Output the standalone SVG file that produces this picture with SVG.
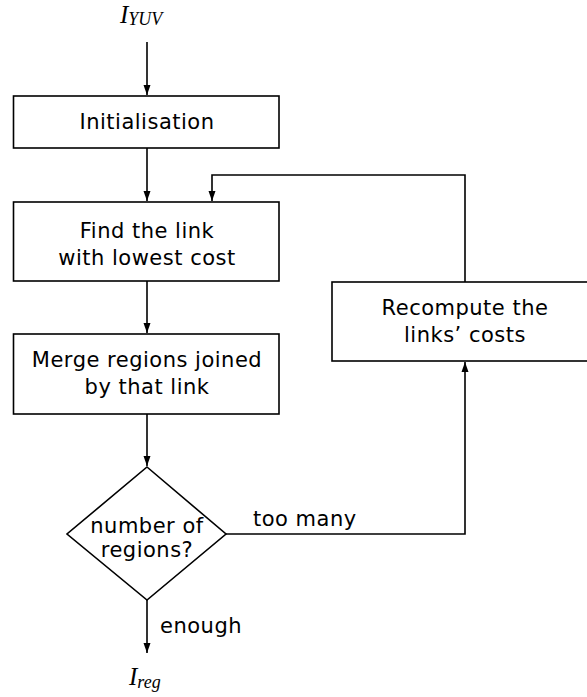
<svg xmlns="http://www.w3.org/2000/svg" width="587" height="697" viewBox="0 0 587 697">
<defs>
<marker id="ah" viewBox="0 0 10 10" refX="10" refY="5" markerWidth="10" markerHeight="10" markerUnits="userSpaceOnUse" orient="auto">
<path d="M0,1.5 L10,5 L0,8.5 Z" fill="#000"/>
</marker>
<style>
.box{fill:#fff;stroke:#000;stroke-width:1.6}
.t{font-family:"DejaVu Sans",sans-serif;font-size:21px;letter-spacing:0.5px;fill:#000;text-anchor:middle}
.lbl{font-family:"DejaVu Sans",sans-serif;font-size:21px;letter-spacing:0.5px;fill:#000}
.m{font-family:"Liberation Serif",serif;font-style:italic;fill:#000}
.c{fill:none;stroke:#000;stroke-width:1.6}
</style>
</defs>
<g id="connectors">
<path class="c" d="M147,42 V95" marker-end="url(#ah)"/>
<path class="c" d="M147,148 V201" marker-end="url(#ah)"/>
<path class="c" d="M465,282 V175 H212 V201" marker-end="url(#ah)"/>
<path class="c" d="M147,281 V333" marker-end="url(#ah)"/>
<path class="c" d="M147,414 V466" marker-end="url(#ah)"/>
<path class="c" d="M226,534 H465 V362" marker-end="url(#ah)"/>
<path class="c" d="M147,600 V653" marker-end="url(#ah)"/>
<text class="lbl" x="253" y="526">too many</text>
<text class="lbl" x="160" y="633">enough</text>
</g>
<g id="input">
<text class="m" x="120" y="23" font-size="25">I<tspan font-size="18" dy="2">YUV</tspan></text>
</g>
<g id="init">
<rect class="box" x="13.5" y="96" width="265.5" height="52"/>
<text class="t" x="147" y="129">Initialisation</text>
</g>
<g id="find">
<rect class="box" x="13.5" y="202" width="265.5" height="79"/>
<text class="t" x="147" y="238">Find the link</text>
<text class="t" x="147" y="265">with lowest cost</text>
</g>
<g id="merge">
<rect class="box" x="13.5" y="334" width="265.5" height="80"/>
<text class="t" x="147" y="367">Merge regions joined</text>
<text class="t" x="147" y="394">by that link</text>
</g>
<g id="recompute">
<rect class="box" x="332" y="282" width="266" height="79"/>
<text class="t" x="465" y="315">Recompute the</text>
<text class="t" x="465" y="342">links’ costs</text>
</g>
<g id="decision">
<polygon class="box" points="147,467 226,534 147,600 67,534"/>
<text class="t" x="147" y="533">number of</text>
<text class="t" x="147" y="557">regions?</text>
</g>
<g id="output">
<text class="m" x="129" y="685" font-size="25">I<tspan font-size="18" dy="3">reg</tspan></text>
</g>
</svg>
